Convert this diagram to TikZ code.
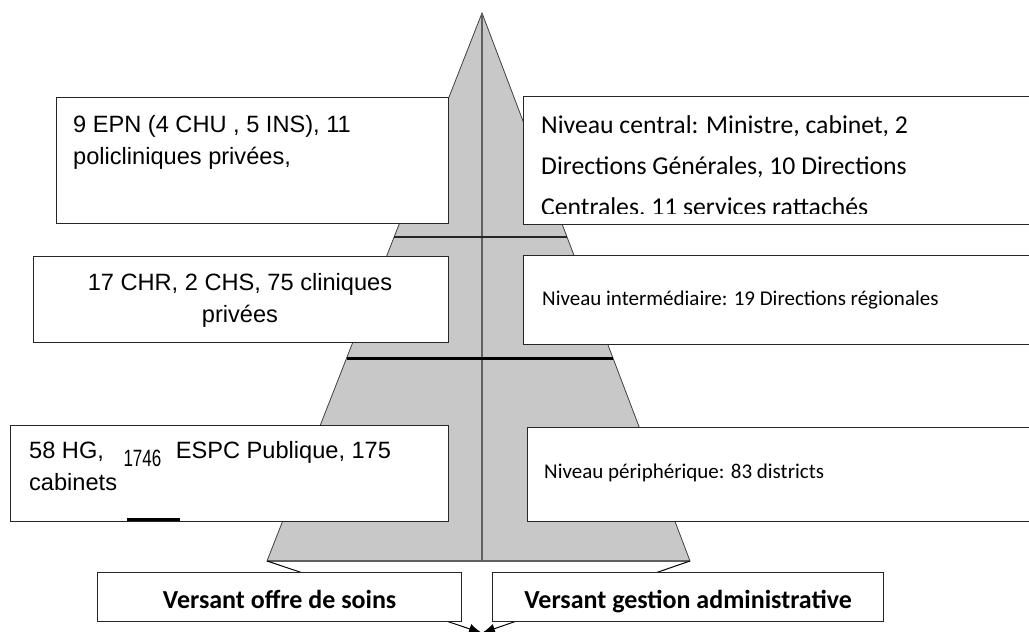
\documentclass[tikz,border=0pt]{standalone}
\usepackage{fontspec}
\setmainfont{Liberation Sans}
\newfontfamily\calibri{Carlito}
\newfontfamily\etroit[FakeStretch=0.72]{Liberation Sans}
\usetikzlibrary{calc,arrows.meta}
\definecolor{pyrgris}{RGB}{200,200,200}
\definecolor{traitgris}{RGB}{95,95,95}
\tikzset{
  boite/.style={draw=black!85, fill=white, line width=1.3pt, inner sep=0pt, anchor=north west},
  txtA/.style={inner sep=0pt, anchor=base west, align=left, font=\fontsize{23.6}{32}\selectfont},
  txtC/.style={inner sep=0pt, anchor=base west, font=\calibri\fontsize{21}{26}\selectfont},
  versant/.style={boite, minimum height=49pt, text height=23pt, text depth=0pt, anchor=north west, font=\calibri\bfseries\fontsize{26}{30}\selectfont}
}

\begin{document}
\begin{tikzpicture}[x=1pt,y=-1pt]
\useasboundingbox (0,0) rectangle (1029,632);
\clip (0,0) rectangle (1029,632);
\coordinate (apex) at (482,13); %sommet
\coordinate (baseL) at (267,561);
\coordinate (baseR) at (690,561);
\coordinate (tip) at (482,633);
\filldraw[fill=pyrgris, draw=black!75, line width=0.8pt] (apex) -- (baseR) -- (baseL) -- cycle;
\draw[traitgris, line width=2pt] (baseL) -- (baseR);
\draw[traitgris, line width=2pt] (apex) -- (apex |- baseL);
\draw[black!85, line width=1.3pt] ($(apex)!.409!(baseL)$) -- ($(apex)!.409!(baseR)$); % niveaux
\draw[black, line width=2.8pt] ($(apex)!.63!(baseL)$) -- ($(apex)!.63!(baseR)$);
\foreach \c in {baseL, baseR} % fleches
\draw[-{Latex[length=13pt,width=10pt]}, line width=1pt] (\c) -- (tip);

\node[boite, minimum width=392pt, minimum height=126pt] (epn) at (56,97) {};
\node[boite, minimum width=517pt, minimum height=128pt] (central) at (523,96) {};
\node[boite, minimum width=415pt, minimum height=86pt] (chr) at (33,256) {};
\node[boite, minimum width=517pt, minimum height=89pt] (inter) at (523,255) {};
\node[boite, minimum width=438pt, minimum height=96pt] (hg) at (10,425) {};
\node[boite, minimum width=513pt, minimum height=94pt] (periph) at (527,427) {};
\draw[black, line width=2.6pt] (127,519.5) -- (180,519.5);
\node[versant, minimum width=364pt] (offre) at (97,572) {Versant offre de soins};
\node[versant, minimum width=391pt] (gestion) at (492,572) {Versant gestion administrative};

% base = derniere ligne
\node[txtA] (epntxt) at (73,164) {9 EPN (4 CHU , 5 INS), 11\\policliniques privées,};
\node[txtA, anchor=base, align=center] (chrtxt) at (240,322) {17 CHR, 2 CHS, 75 cliniques\\privées};
\node[txtA] (hgtxt) at (29,490) {58 HG,\hspace{13pt} \raisebox{-8pt}{\etroit 1746}\hspace{8pt} ESPC Publique, 175\\cabinets};
\begin{scope}
\clip ($(central.north west)+(0,2)$) rectangle (central.east |- 0,213); % texte coupe
\node[txtC, align=left, font=\calibri\fontsize{25.7}{41}\selectfont] (centraltxt) at (541,215) {Niveau central: Ministre, cabinet, 2\\Directions Générales, 10 Directions\\Centrales, 11 services rattachés};
\end{scope}
\node[txtC] (intertxt) at (542,305) {Niveau intermédiaire: 19 Directions régionales};
\node[txtC] (periphtxt) at (544,478) {Niveau périphérique: 83 districts};
\end{tikzpicture}
\end{document}
